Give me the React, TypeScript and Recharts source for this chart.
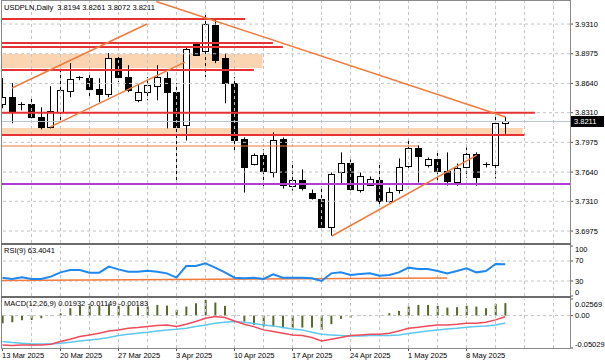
import React from 'react';
import { ComposedChart, Bar, Line, XAxis, YAxis, ReferenceLine, ReferenceArea } from 'recharts';

const dateTicks = [0, 6, 12, 18, 24, 30, 36, 42, 48];
const dateLabels = ['13 Mar 2025', '20 Mar 2025', '27 Mar 2025', '3 Apr 2025', '10 Apr 2025', '17 Apr 2025', '24 Apr 2025', '1 May 2025', '8 May 2025'];

const opens = [3.8405, 3.8484, 3.8405, 3.8405, 3.8258, 3.8145, 3.8314, 3.8552, 3.8711, 3.8699, 3.8575, 3.8518, 3.8926, 3.8711, 3.845, 3.8541, 3.8609, 3.8699, 3.8541, 3.8167, 3.9084, 3.9005, 3.9299, 3.8926, 3.8643, 3.8009, 3.7726, 3.7828, 3.7635, 3.8009, 3.7488, 3.7556, 3.7409, 3.7341, 3.7024, 3.7635, 3.7737, 3.7443, 3.7499, 3.7556, 3.7318, 3.7432, 3.7703, 3.7907, 3.7715, 3.7782, 3.7647, 3.7522, 3.7692, 3.7839, 3.7726, 3.7715, 3.8194];
const highs = [3.87, 3.8643, 3.8428, 3.8484, 3.8371, 3.8609, 3.8846, 3.8869, 3.8722, 3.8733, 3.8699, 3.8982, 3.896, 3.8846, 3.862, 3.8711, 3.8846, 3.8767, 3.8643, 3.905, 3.9107, 3.9424, 3.9367, 3.8982, 3.8711, 3.8031, 3.785, 3.7896, 3.8088, 3.8031, 3.776, 3.7669, 3.7443, 3.7477, 3.7635, 3.7862, 3.7782, 3.7635, 3.759, 3.7726, 3.7465, 3.7794, 3.8009, 3.7941, 3.7805, 3.7862, 3.7862, 3.7737, 3.7918, 3.7862, 3.7749, 3.8314, 3.8261];
const lows = [3.836, 3.819, 3.8337, 3.8246, 3.8122, 3.8133, 3.8224, 3.8484, 3.8677, 3.8484, 3.8428, 3.8484, 3.8654, 3.8541, 3.8428, 3.845, 3.845, 3.8133, 3.7522, 3.7997, 3.896, 3.8711, 3.8869, 3.8416, 3.7862, 3.7409, 3.7715, 3.7454, 3.7579, 3.7454, 3.7432, 3.7432, 3.733, 3.6979, 3.6922, 3.7511, 3.7432, 3.7409, 3.7488, 3.7262, 3.7296, 3.7398, 3.7658, 3.7522, 3.7692, 3.7545, 3.7488, 3.7488, 3.7579, 3.7488, 3.7692, 3.7567, 3.8072];
const closes = [3.8484, 3.8314, 3.84, 3.8258, 3.8145, 3.8326, 3.8563, 3.8688, 3.8705, 3.8575, 3.8518, 3.8926, 3.8711, 3.8563, 3.8541, 3.862, 3.8711, 3.8541, 3.8145, 3.9027, 3.896, 3.931, 3.8903, 3.8643, 3.7997, 3.7692, 3.7828, 3.7647, 3.7997, 3.7488, 3.7556, 3.7465, 3.7352, 3.7024, 3.7624, 3.7737, 3.7443, 3.7601, 3.7567, 3.7318, 3.742, 3.7692, 3.7907, 3.7816, 3.7782, 3.7647, 3.7533, 3.7681, 3.7839, 3.7579, 3.773, 3.819, 3.8211];

const rsiValues = [36.7, 34, 37.3, 34, 34, 38.7, 47.3, 52, 52, 46.7, 46.7, 58.7, 53.3, 48.7, 48.7, 50.7, 48.7, 45.3, 36.7, 60, 60, 65.3, 56.7, 47.3, 36.7, 35.3, 36.7, 34, 43.3, 36.7, 36.7, 36.7, 35.3, 30, 45.3, 47.3, 42, 44, 45.3, 40.7, 42, 47.3, 56.7, 54, 54, 50, 45.3, 50, 55.3, 47.3, 50, 64, 63.4];
const macdHist = [-0.0119, -0.0103, -0.0072, -0.0067, -0.0041, -0.0005, 0.0036, 0.0114, 0.015, 0.015, 0.015, 0.0165, 0.015, 0.015, 0.014, 0.014, 0.0165, 0.0155, 0.0088, 0.014, 0.0191, 0.0243, 0.0202, 0.015, 0.001, -0.0093, -0.0145, -0.0171, -0.0171, -0.0196, -0.0196, -0.0186, -0.0186, -0.0222, -0.0134, -0.0052, -0.0031, -0.0005, 0.001, 0.0003, 0.0036, 0.0072, 0.014, 0.0165, 0.0165, 0.015, 0.0124, 0.0129, 0.015, 0.014, 0.0114, 0.0181, 0.0193];
const macdMain = [-0.0455, -0.0465, -0.0455, -0.0455, -0.0455, -0.0445, -0.0403, -0.0367, -0.0326, -0.03, -0.0274, -0.0238, -0.0222, -0.0196, -0.0186, -0.0171, -0.0155, -0.0145, -0.0171, -0.0134, -0.0093, -0.0041, -0.0016, -0.0031, -0.0083, -0.0134, -0.0171, -0.0222, -0.0248, -0.0274, -0.03, -0.031, -0.0341, -0.0393, -0.0367, -0.0341, -0.031, -0.03, -0.029, -0.029, -0.0274, -0.0238, -0.0196, -0.0181, -0.016, -0.0145, -0.0145, -0.0134, -0.0119, -0.0119, -0.0103, -0.0067, -0.0018];
const macdSignal = [-0.0403, -0.0419, -0.0429, -0.0439, -0.0439, -0.0439, -0.0429, -0.0414, -0.0393, -0.0377, -0.0362, -0.0341, -0.031, -0.029, -0.0274, -0.0259, -0.0238, -0.0222, -0.0212, -0.0196, -0.0171, -0.0145, -0.0119, -0.0103, -0.0093, -0.0103, -0.0124, -0.0145, -0.016, -0.0186, -0.0207, -0.0222, -0.0259, -0.029, -0.03, -0.031, -0.0315, -0.0315, -0.031, -0.031, -0.031, -0.03, -0.0279, -0.0259, -0.0238, -0.0222, -0.0207, -0.0196, -0.0181, -0.0171, -0.016, -0.0145, -0.0115];

const priceTicks = [3.931, 3.8975, 3.864, 3.831, 3.7975, 3.764, 3.731, 3.6975];
const rsiTicks = [100, 70, 30, 0];
const macdTicks = [0.02569, 0, -0.05029];

// drawn objects on the price panel: [price, end bar]
const redLevels = [[3.9366, 25.1], [3.9096, 27.97], [3.9051, 29.0], [3.8791, 26.0], [3.831, 55.07], [3.8058, 54.0]];
const bands = [[3.8972, 3.8814, 26.9], [3.8137, 3.8069, 53.8]];
const orangeLevel = [3.7934, 43.0];
const purpleLevel = 3.7505;
// trend lines: [bar1, price1, bar2, price2]
const trendLines = [
  [0.98, 3.8588, 14.94, 3.931],
  [4.91, 3.8148, 18.87, 3.8881],
  [15.9, 3.9565, 52.05, 3.8261],
  [34.07, 3.6919, 49.07, 3.7832],
];
const rsiTrend = [-0.05, 31, 46, 36];

const X_DOMAIN: [number, number] = [-0.05, 58.7];
const gridBars = [3, 6, 9, 12, 15, 18, 21, 24, 27, 30, 33, 36, 39, 42, 45, 48, 51, 54, 57];
const FONT = '"Liberation Sans", Arial, sans-serif';
const GRID = '#c4c4c4';
const RED = '#e63232';
const ORANGE = '#f27a3c';

const bars = opens.map((o, i) => ({
  i,
  open: o,
  high: highs[i],
  low: lows[i],
  close: closes[i],
  rsi: rsiValues[i],
  hist: macdHist[i],
  macd: macdMain[i],
  signal: macdSignal[i],
}));

const Candle = (props: any) => {
  const { x, y, width, height, payload } = props;
  if (!payload) return null;
  const { open, close, high, low } = payload;
  const top = Math.min(y, y + height);
  const h = Math.abs(height);
  const k = h / (high - low);
  const cx = Math.round(x + width / 2) + 0.5;
  const yo = top + (high - open) * k;
  const yc = top + (high - close) * k;
  const bTop = Math.min(yo, yc);
  const bH = Math.abs(yo - yc);
  return (
    <g>
      <line x1={cx} x2={cx} y1={top} y2={top + h} stroke="#000" strokeWidth={1} />
      {bH < 1.5 ? (
        <line x1={cx - 3.5} x2={cx + 3.5} y1={Math.round(yo) + 0.5} y2={Math.round(yo) + 0.5} stroke="#000" />
      ) : (
        <rect x={cx - 3} y={Math.round(bTop) + 0.5} width={6} height={Math.round(bH)} fill={close >= open ? '#fff' : '#000'} stroke="#000" />
      )}
    </g>
  );
};

const PriceTag = ({ viewBox, price }: any) => {
  if (!viewBox) return null;
  const x = viewBox.x + viewBox.width + 1;
  const y = viewBox.y;
  return (
    <g>
      <rect x={x} y={y - 5.5} width={33} height={11} fill="#000" />
      <text x={x + 3} y={y + 3} fill="#fff" fontSize={7.5} fontFamily={FONT}>{price}</text>
    </g>
  );
};

const rsiShift: Record<number, number> = { 100: 3, 70: -1, 30: 0, 0: -4 };
const RsiTick = ({ x, y, payload }: any) => (
  <text x={x} y={y + (rsiShift[payload.value] || 0)} dy="0.35em" fontSize={7.5} fontFamily={FONT} fill="#000">{payload.value}</text>
);

const MacdTick = ({ x, y, payload }: any) => {
  const v = payload.value;
  const shift = v > 0 ? 5 : v < 0 ? -4 : 0;
  const label = v === 0 ? '0.00' : v.toFixed(5);
  return <text x={x} y={y + shift} dy="0.35em" fontSize={7.5} fontFamily={FONT} fill="#000">{label}</text>;
};

const DateTick = ({ x, y, payload }: any) => {
  const label = dateLabels[dateTicks.indexOf(payload.value)];
  return (
    <g>
      <line x1={x} x2={x} y1={y} y2={y + 3} stroke="#555" />
      <text x={x - 0.5} y={y + 10} fontSize={7.5} fontFamily={FONT} fill="#000" textAnchor="start">{label}</text>
    </g>
  );
};

const vGrid = gridBars.map(g => (
  <ReferenceLine key={'v' + g} x={g} stroke={GRID} strokeDasharray="3 3" ifOverflow="visible" />
));

export default function App() {
  const last = closes[closes.length - 1];
  return (
    <div style={{ position: 'absolute', left: 0, top: 0, width: 605, height: 363, background: '#fff', fontFamily: FONT, overflow: 'hidden' }}>
      <div style={{ position: 'absolute', left: 0, top: 0 }}>
        <ComposedChart width={605} height={245} data={bars} margin={{ top: 1, right: 0, bottom: 2, left: 2 }}>
          <XAxis dataKey="i" type="number" domain={X_DOMAIN} allowDataOverflow hide />
          <YAxis
            orientation="right"
            width={35}
            type="number"
            domain={[3.684, 3.957]}
            allowDataOverflow
            ticks={priceTicks}
            interval={0}
            tickSize={3}
            tickMargin={2}
            axisLine={false}
            tickLine={{ stroke: '#555' }}
            tick={{ fontSize: 7.5, fill: '#000', fontFamily: FONT }}
            tickFormatter={(v: number) => v.toFixed(4)}
          />
          {bands.map((b, n) => (
            <ReferenceArea key={'b' + n} x1={X_DOMAIN[0]} x2={b[2]} y1={b[1]} y2={b[0]} fill="#fbd5b2" fillOpacity={1} stroke="none" ifOverflow="visible" />
          ))}
          {priceTicks.map(t => (
            <ReferenceLine key={'h' + t} y={t} stroke={GRID} strokeDasharray="3 3" />
          ))}
          {vGrid}
          <ReferenceLine y={last} stroke="#b8c4cc" strokeWidth={1} label={<PriceTag price={last.toFixed(4)} />} />
          <Bar dataKey={(d: any) => [d.low, d.high]} barSize={7} shape={<Candle />} isAnimationActive={false} />
          {redLevels.map((l, n) => (
            <ReferenceLine key={'r' + n} segment={[{ x: X_DOMAIN[0], y: l[0] }, { x: l[1], y: l[0] }]} stroke={RED} strokeWidth={2} ifOverflow="visible" />
          ))}
          <ReferenceLine segment={[{ x: X_DOMAIN[0], y: orangeLevel[0] }, { x: orangeLevel[1], y: orangeLevel[0] }]} stroke={ORANGE} strokeWidth={1} ifOverflow="visible" />
          <ReferenceLine y={purpleLevel} stroke="#b03cd4" strokeWidth={2} />
          {trendLines.map((t, n) => (
            <ReferenceLine key={'t' + n} segment={[{ x: t[0], y: t[1] }, { x: t[2], y: t[3] }]} stroke={ORANGE} strokeWidth={1.5} ifOverflow="visible" />
          ))}
        </ComposedChart>
      </div>

      <div style={{ position: 'absolute', left: 0, top: 244 }}>
        <ComposedChart width={605} height={54} data={bars} margin={{ top: 2, right: 0, bottom: 2, left: 2 }}>
          <XAxis dataKey="i" type="number" domain={X_DOMAIN} allowDataOverflow hide />
          <YAxis orientation="right" width={35} type="number" domain={[0, 100]} ticks={rsiTicks} interval={0} tickSize={3} tickMargin={2} axisLine={false} tickLine={{ stroke: '#555' }} tick={<RsiTick />} />
          {vGrid}
          <ReferenceLine y={70} stroke={GRID} strokeDasharray="3 3" />
          <ReferenceLine y={30} stroke={GRID} strokeDasharray="3 3" />
          <ReferenceLine segment={[{ x: rsiTrend[0], y: rsiTrend[1] }, { x: rsiTrend[2], y: rsiTrend[3] }]} stroke={ORANGE} strokeWidth={1.5} ifOverflow="visible" />
          <Line dataKey="rsi" type="linear" stroke="#1e88f0" strokeWidth={2} dot={false} isAnimationActive={false} />
        </ComposedChart>
      </div>

      <div style={{ position: 'absolute', left: 0, top: 297 }}>
        <ComposedChart width={605} height={66} data={bars} margin={{ top: 2, right: 0, bottom: 0, left: 2 }}>
          <XAxis dataKey="i" type="number" domain={X_DOMAIN} allowDataOverflow ticks={dateTicks} interval={0} height={15} axisLine={false} tickLine={false} tickSize={0} tickMargin={0} tick={<DateTick />} />
          <YAxis orientation="right" width={35} type="number" domain={[-0.05029, 0.02569]} allowDataOverflow ticks={macdTicks} interval={0} tickSize={3} tickMargin={2} axisLine={false} tickLine={{ stroke: '#555' }} tick={<MacdTick />} />
          {vGrid}
          <ReferenceLine y={0} stroke={GRID} strokeDasharray="3 3" />
          <Bar dataKey="hist" barSize={2} fill="#56682a" isAnimationActive={false} />
          <Line dataKey="signal" type="linear" stroke="#5cc8ec" strokeWidth={1.5} dot={false} isAnimationActive={false} />
          <Line dataKey="macd" type="linear" stroke="#f04a5a" strokeWidth={1.5} dot={false} isAnimationActive={false} />
        </ComposedChart>
      </div>

      {/* frame and panel separators */}
      <div style={{ position: 'absolute', left: 1, top: 0, width: 570, height: 1, background: '#8a8a8a' }} />
      <div style={{ position: 'absolute', left: 1, top: 0, width: 1, height: 349, background: '#8a8a8a' }} />
      <div style={{ position: 'absolute', left: 570, top: 0, width: 1, height: 349, background: '#8a8a8a' }} />
      <div style={{ position: 'absolute', left: 1, top: 348, width: 570, height: 1, background: '#8a8a8a' }} />
      <div style={{ position: 'absolute', left: 1, top: 243, width: 570, height: 2, background: '#6c6c6c' }} />
      <div style={{ position: 'absolute', left: 1, top: 296, width: 570, height: 2, background: '#6c6c6c' }} />

      <div style={{ position: 'absolute', left: 4, top: 3, fontSize: 7.5, lineHeight: '10px', whiteSpace: 'pre', color: '#000' }}>
        {'USDPLN,Daily  3.8194 3.8261 3.8072 3.8211'}
      </div>
      <div style={{ position: 'absolute', left: 4, top: 246, fontSize: 7.5, lineHeight: '10px', whiteSpace: 'pre', color: '#000' }}>
        {'RSI(9) 63.4041'}
      </div>
      <div style={{ position: 'absolute', left: 4, top: 299, fontSize: 7.5, lineHeight: '10px', whiteSpace: 'pre', color: '#000' }}>
        {'MACD(12,26,9) 0.01932 -0.01149 -0.00183'}
      </div>
    </div>
  );
}
